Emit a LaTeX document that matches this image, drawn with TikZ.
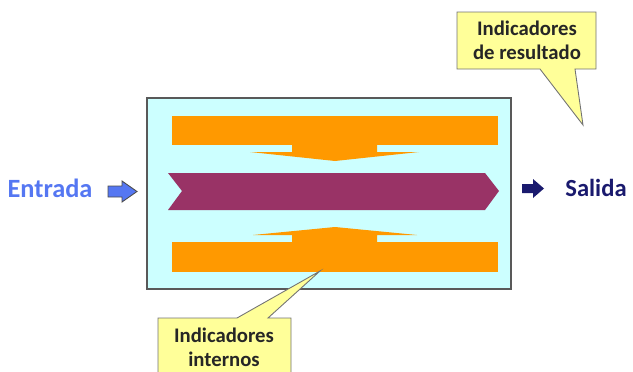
\documentclass[tikz,border=0pt]{standalone}
\usepackage{fontspec}
\setmainfont{Carlito}
\usetikzlibrary{positioning}
\definecolor{cajafondo}{HTML}{CCFFFF}
\definecolor{naranja}{HTML}{FF9900}
\definecolor{morado}{HTML}{993366}
\definecolor{notaamarilla}{HTML}{FFFF99}
\definecolor{azulentrada}{HTML}{5577F2}
\definecolor{azulsalida}{HTML}{1A1A6E}
\tikzstyle{proceso}=[draw=black!65, fill=cajafondo, line width=0.8pt]
\tikzstyle{barra}=[fill=naranja]
\tikzstyle{nota}=[draw=black!55, fill=notaamarilla, line width=0.5pt]
\tikzstyle{notatexto}=[font=\bfseries\fontsize{11.8}{13.5}\selectfont, align=center, text=black!85]
\tikzstyle{rotulo}=[font=\bfseries\fontsize{14}{16}\selectfont]

\begin{document}
\begin{tikzpicture}[x=0.02cm, y=-0.02cm]
    \useasboundingbox (0,0) rectangle (633,372);
    \clip (0,0) rectangle (633,372);
    % caja del proceso
    \draw[proceso] (147,98) rectangle (511,289);
    % barras superiores e inferiores
    \fill[barra] (172,116) rectangle (498,145);
    \fill[barra] (292,145) -- (377,145) -- (377,152) -- (419,152) -- (335,161) -- (250,152) -- (292,152) -- cycle;
    \fill[barra] (172,242) rectangle (498,272);
    \fill[barra] (292,242) -- (377,242) -- (377,235) -- (417,235) -- (335,227) -- (253,235) -- (292,235) -- cycle;
    % flecha central
    \fill[morado] (168,173) -- (485,173) -- (499,191) -- (485,210) -- (168,210) -- (182,191) -- cycle;
    % entrada y salida
    \node (entrada) [rotulo, text=azulentrada, font=\bfseries\fontsize{15}{17}\selectfont] at (50,188) {Entrada};
    \draw[fill=azulentrada, draw=black!70, line width=0.5pt] (108,186) -- (122,186) -- (122,181) -- (137,191.5) -- (122,202) -- (122,197) -- (108,197) -- cycle;
    \fill[azulsalida] (522,184) -- (533,184) -- (533,179) -- (544,188.5) -- (533,198) -- (533,193) -- (522,193) -- cycle;
    \node (salida) [rotulo, text=azulsalida] at (596,188) {Salida};
    % llamadas
    \draw[nota] (457,12) -- (596,12) -- (596,69) -- (575,69) -- (583,125) -- (540,69) -- (457,69) -- cycle;
    \node (resultado) [notatexto] at (527,40) {Indicadores\\de resultado};
    \draw[nota] (158,318) -- (237,318) -- (320,271) -- (268,318) -- (291,318) -- (291,400) -- (158,400) -- cycle;
    \node (internos) [notatexto] at (224,347) {Indicadores\\internos};
\end{tikzpicture}
\end{document}
